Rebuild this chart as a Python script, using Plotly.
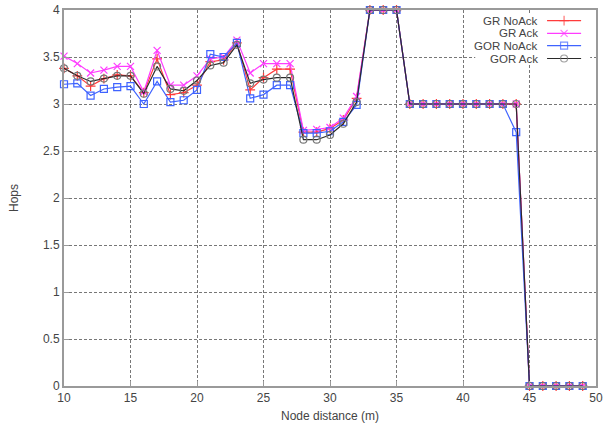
import plotly.graph_objects as go

distance = list(range(10, 50))

gr_noack = [3.38, 3.30, 3.19, 3.27, 3.31, 3.30, 3.12, 3.48, 3.10, 3.12,
            3.20, 3.45, 3.47, 3.65, 3.15, 3.28, 3.37, 3.37, 2.70, 2.70,
            2.74, 2.83, 3.06, 4.00, 4.00, 4.00, 3.00, 3.00, 3.00, 3.00,
            3.00, 3.00, 3.00, 3.00, 3.00, 0.00, 0.00, 0.00, 0.00, 0.00]
gr_ack = [3.51, 3.43, 3.33, 3.36, 3.40, 3.40, 3.13, 3.57, 3.20, 3.20,
          3.30, 3.48, 3.50, 3.68, 3.33, 3.43, 3.43, 3.43, 2.72, 2.73,
          2.75, 2.85, 3.08, 4.00, 4.00, 4.00, 3.00, 3.00, 3.00, 3.00,
          3.00, 3.00, 3.00, 3.00, 3.00, 0.00, 0.00, 0.00, 0.00, 0.00]
gor_noack = [3.21, 3.22, 3.09, 3.16, 3.18, 3.19, 3.00, 3.24, 3.02, 3.04,
             3.15, 3.53, 3.50, 3.65, 3.06, 3.10, 3.20, 3.20, 2.69, 2.69,
             2.71, 2.81, 2.99, 4.00, 4.00, 4.00, 3.00, 3.00, 3.00, 3.00,
             3.00, 3.00, 3.00, 3.00, 2.70, 0.00, 0.00, 0.00, 0.00, 0.00]
gor_ack = [3.38, 3.30, 3.24, 3.27, 3.30, 3.30, 3.11, 3.40, 3.16, 3.14,
           3.25, 3.41, 3.44, 3.63, 3.22, 3.26, 3.28, 3.28, 2.62, 2.62,
           2.67, 2.79, 3.02, 4.00, 4.00, 4.00, 3.00, 3.00, 3.00, 3.00,
           3.00, 3.00, 3.00, 3.00, 3.00, 0.00, 0.00, 0.00, 0.00, 0.00]

series_names = ["GR NoAck", "GR Ack", "GOR NoAck", "GOR Ack"]
series_values = [gr_noack, gr_ack, gor_noack, gor_ack]
line_colors = ["#ff3b3b", "#ff3cff", "#3f63ff", "#2a2a2a"]
marker_colors = ["#ff3b3b", "#ff3cff", "#3f63ff", "#777777"]
symbols = ["cross-thin-open", "x-thin-open", "square-open", "circle-open"]

x_ticks = [10, 15, 20, 25, 30, 35, 40, 45, 50]
y_ticks = [0, 0.5, 1, 1.5, 2, 2.5, 3, 3.5, 4]
y_tick_text = ["0", "0.5", "1", "1.5", "2", "2.5", "3", "3.5", "4"]

FONT = "Liberation Sans, Arial, sans-serif"
TXT = "#444444"
X_RANGE = [10, 50]
Y_RANGE = [0, 4]


def fx(f):
    return X_RANGE[0] + f * (X_RANGE[1] - X_RANGE[0])


def fy(f):
    return Y_RANGE[0] + f * (Y_RANGE[1] - Y_RANGE[0])


fig = go.Figure()

# white legend box (a filled trace, so it hides the grid but stays under the data)
bx0, bx1, by0, by1 = fx(0.773), fx(0.989), fy(0.862), fy(0.989)
fig.add_trace(go.Scatter(
    x=[bx0, bx1, bx1, bx0, bx0], y=[by0, by0, by1, by1, by0],
    mode="none", fill="toself", fillcolor="white",
    showlegend=False, hoverinfo="skip",
))

for name, vals, lc, mc, sym in zip(series_names, series_values, line_colors, marker_colors, symbols):
    fig.add_trace(go.Scatter(
        x=distance, y=vals, name=name, mode="lines+markers",
        line=dict(color=lc, width=1.2),
        marker=dict(symbol=sym, size=7, color=mc, line=dict(color=mc, width=1.2)),
        showlegend=False, cliponaxis=False,
    ))

# custom gnuplot-style legend (text left, key right)
legend_rows = [0.972, 0.938, 0.905, 0.871]
for name, lc, mc, sym, yy in zip(series_names, line_colors, marker_colors, symbols, legend_rows):
    fig.add_trace(go.Scatter(
        x=[fx(0.908), fx(0.94), fx(0.972)], y=[fy(yy)] * 3,
        mode="lines+markers", showlegend=False, hoverinfo="skip",
        line=dict(color=lc, width=1.2),
        marker=dict(symbol=sym, size=[0, 7, 0], color=mc, line=dict(color=mc, width=1.2)),
    ))
    fig.add_annotation(x=0.893, y=yy, xref="x domain", yref="y domain", text=name, showarrow=False,
                       xanchor="right", yanchor="middle", borderpad=0,
                       font=dict(family=FONT, size=11.5, color=TXT))

axis_common = dict(
    showline=True, linecolor="#9a9a9a", linewidth=2, mirror=True,
    ticks="inside", ticklen=5, tickcolor="#9a9a9a",
    showgrid=True, gridcolor="#777777", gridwidth=1, griddash="3px,2px",
    zeroline=False, automargin=False,
    tickfont=dict(family=FONT, size=12, color=TXT),
)

fig.update_layout(
    width=605, height=425,
    margin=dict(l=64, r=9, t=10, b=39),
    paper_bgcolor="white", plot_bgcolor="white",
    font=dict(family=FONT, size=12, color=TXT),
    xaxis=dict(range=X_RANGE, tickvals=x_ticks, **axis_common,
               title=dict(text="Node distance (m)", standoff=7,
                          font=dict(family=FONT, size=12, color=TXT))),
    yaxis=dict(range=Y_RANGE, tickvals=y_ticks, ticktext=y_tick_text, **axis_common,
               title=dict(text="Hops", standoff=22,
                          font=dict(family=FONT, size=12, color=TXT))),
)

fig.write_html("out.html", config={"displayModeBar": False},
               post_script="document.body.style.margin='0';document.body.style.overflow='hidden';")
